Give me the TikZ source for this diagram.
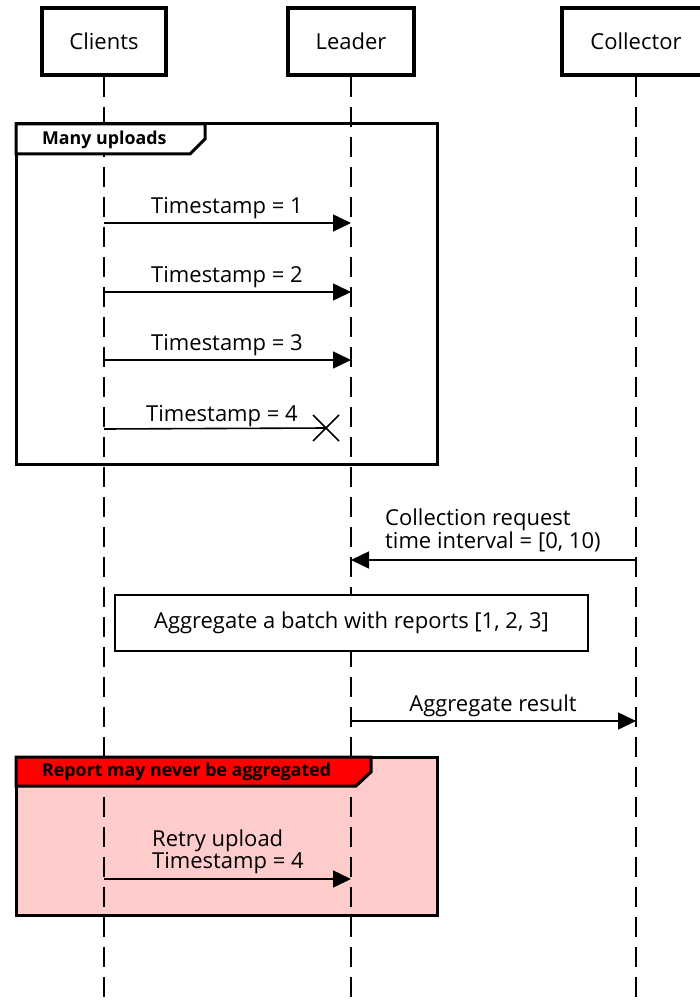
\documentclass[tikz,border=0pt]{standalone}
\usepackage{fontspec}
\setmainfont{Open Sans}
\usetikzlibrary{arrows.meta}
\definecolor{groupred}{HTML}{FF0000}
\definecolor{grouppink}{HTML}{FFCCCC}
\begin{document}
\begin{tikzpicture}[x=1pt,y=-1pt,
  every node/.style={inner sep=0pt, text=black},
  actor/.style={draw, line width=3.4pt, minimum height=67pt, font=\fontsize{22}{26}\selectfont},
  lifeline/.style={line width=1.6pt, dash pattern=on 20pt off 10pt},
  msg/.style={line width=1.6pt, -{Triangle[length=18pt,width=17pt]}},
  lbl/.style={font=\fontsize{22}{26}\selectfont, anchor=base},
  lblw/.style={font=\fontsize{22}{26}\selectfont, anchor=base west},
  frameline/.style={line width=3pt},
  ftitle/.style={font=\bfseries\fontsize{17.8}{21}\selectfont, anchor=base west},
]
\useasboundingbox (0,0) rectangle (700,1003);

% participants
\node[actor, minimum width=124pt] (clients) at (104,41.5) {Clients};
\node[actor, minimum width=126pt] (leader) at (351,41.5) {Leader};
\node[actor, minimum width=148pt] (collector) at (636,41.5) {Collector};

\coordinate (clientsEnd) at (104,1010);
\coordinate (leaderEnd) at (351,1010);
\coordinate (collectorEnd) at (636,1010);

% background of the alert group
\fill[grouppink] (16,757) rectangle (437,915);

% lifelines
\draw[lifeline] (clients.south) -- (clientsEnd);
\draw[lifeline] (leader.south) -- (leaderEnd);
\draw[lifeline] (collector.south) -- (collectorEnd);

% group: Many uploads
\draw[frameline] (16,124) rectangle (437,464);
\draw[frameline, fill=white] (16,124) -- (205,124) -- (205,139) -- (190,154) -- (16,154) -- cycle;
\node[ftitle] (g1title) at (42,145) {Many uploads};

% group: Report may never be aggregated
\draw[frameline] (16,757) rectangle (437,915);
\draw[frameline, fill=groupred] (16,757) -- (371,757) -- (371,772) -- (356,786) -- (16,786) -- cycle;
\node[ftitle] (g2title) at (42,776) {Report may never be aggregated};

% uploads
\coordinate (c1) at (clients |- 0,223);
\coordinate (l1) at (leader |- 0,223);
\draw[msg] (c1) -- (l1);
\node[lbl] (m1) at (227,213) {Timestamp = 1};

\coordinate (c2) at (clients |- 0,292);
\coordinate (l2) at (leader |- 0,292);
\draw[msg] (c2) -- (l2);
\node[lbl] (m2) at (227,282) {Timestamp = 2};

\coordinate (c3) at (clients |- 0,360);
\coordinate (l3) at (leader |- 0,360);
\draw[msg] (c3) -- (l3);
\node[lbl] (m3) at (227,350) {Timestamp = 3};

% lost upload
\coordinate (c4) at (clients |- 0,429);
\coordinate (lost) at (326,428);
\draw[line width=1.6pt] (c4) -- (lost);
\draw[line width=1.6pt] ([shift={(-13,-13)}]lost) -- ([shift={(13,13)}]lost)
                        ([shift={(-13,13)}]lost) -- ([shift={(13,-13)}]lost);
\node[lbl] (m4) at (222,421) {Timestamp = 4};

% collection request
\coordinate (k1) at (collector |- 0,560);
\coordinate (l5) at (leader |- 0,560);
\draw[msg] (k1) -- (l5);
\node[lblw] (m5a) at (385,525) {Collection request};
\node[lblw] (m5b) at (385,548) {time interval = [0, 10)};

% note
\node[draw, line width=1.3pt, fill=white, minimum width=473pt, minimum height=56pt,
      font=\fontsize{22}{26}\selectfont] (note) at (351.5,623) {Aggregate a batch with reports [1, 2, 3]};

% aggregate result
\coordinate (l6) at (leader |- 0,721);
\coordinate (k6) at (collector |- 0,721);
\draw[msg] (l6) -- (k6);
\node[lbl] (m6) at (493,711) {Aggregate result};

% retry upload
\coordinate (c7) at (clients |- 0,879);
\coordinate (l7) at (leader |- 0,879);
\draw[msg] (c7) -- (l7);
\node[lblw] (m7a) at (152,846) {Retry upload};
\node[lblw] (m7b) at (152,868) {Timestamp = 4};
\end{tikzpicture}
\end{document}
